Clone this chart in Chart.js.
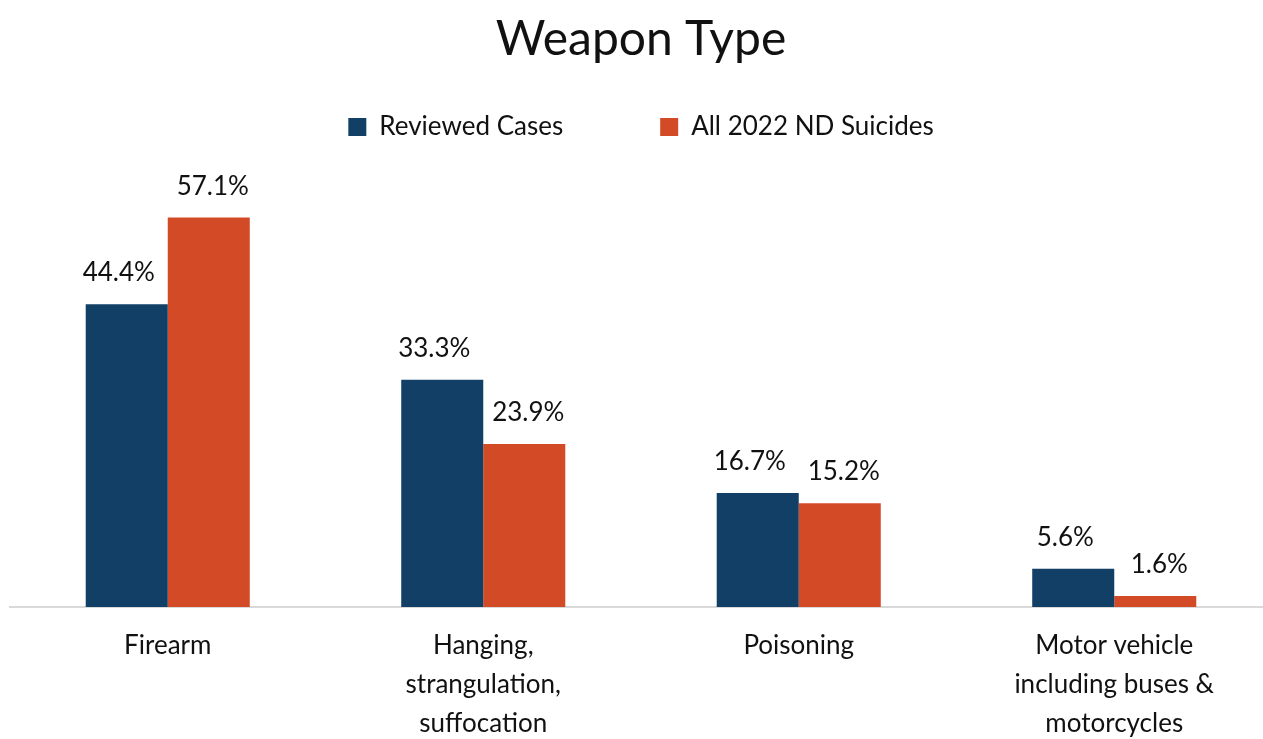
<!DOCTYPE html>
<html lang="en">
<head>
  <meta charset="UTF-8">
  <title>Weapon Type</title>
  <script src="https://cdn.jsdelivr.net/npm/chart.js@4"></script>
  <style>
    * { margin: 0; padding: 0; box-sizing: border-box; }
    html, body { width: 1263px; height: 739px; overflow: hidden; background: #fff; }
    canvas { display: block; }
  </style>
</head>
<body>
  <canvas id="chart" width="1272" height="739"></canvas>
  <script>
    const categories = [
      ['Firearm'],
      ['Hanging,', 'strangulation,', 'suffocation'],
      ['Poisoning'],
      ['Motor vehicle', 'including buses &', 'motorcycles']
    ];
    const reviewedCases = [44.4, 33.3, 16.7, 5.6];
    const allNdSuicides = [57.1, 23.9, 15.2, 1.6];
    const seriesNames = ['Reviewed Cases', 'All 2022 ND Suicides'];

    const FONT = 'Lato, "Noto Sans", sans-serif';
    const INK = '#111';

    // percentage labels sitting above each bar
    const barLabels = {
      id: 'barLabels',
      afterDatasetsDraw(chart) {
        const { ctx } = chart;
        ctx.save();
        ctx.font = '26px ' + FONT;
        ctx.fillStyle = INK;
        ctx.textAlign = 'center';
        ctx.textBaseline = 'alphabetic';
        chart.data.datasets.forEach((ds, di) => {
          const dx = di === 0 ? -8 : 4;
          chart.getDatasetMeta(di).data.forEach((bar, i) => {
            ctx.fillText(ds.data[i].toFixed(1) + '%', bar.x + dx, bar.y - 23);
          });
        });
        ctx.restore();
      }
    };

    new Chart(document.getElementById('chart'), {
      type: 'bar',
      data: {
        labels: categories,
        datasets: [
          { label: seriesNames[0], data: reviewedCases, backgroundColor: '#123F66' },
          { label: seriesNames[1], data: allNdSuicides, backgroundColor: '#D34A27' }
        ]
      },
      options: {
        responsive: false,
        animation: false,
        devicePixelRatio: 1,
        layout: { padding: { left: 10, right: 0, top: 0, bottom: -23 } },
        datasets: { bar: { categoryPercentage: 0.52, barPercentage: 1 } },
        plugins: {
          title: {
            display: true,
            text: 'Weapon Type',
            color: INK,
            font: { family: FONT, size: 48, weight: 'normal', lineHeight: 1 },
            padding: { top: 16, bottom: -47 }
          },
          legend: {
            display: true,
            labels: {
              color: INK,
              font: { family: FONT, size: 26 },
              boxWidth: 18,
              boxHeight: 18,
              padding: 97
            }
          },
          tooltip: { enabled: false }
        },
        scales: {
          x: {
            grid: { display: false, drawTicks: false },
            border: { display: true, color: '#D9D9D9', width: 2 },
            ticks: {
              color: INK,
              font: { family: FONT, size: 26, lineHeight: 1.5 },
              padding: 19,
              maxRotation: 0
            }
          },
          y: {
            display: false,
            min: 0,
            max: 67
          }
        }
      },
      plugins: [barLabels]
    });
  </script>
</body>
</html>
